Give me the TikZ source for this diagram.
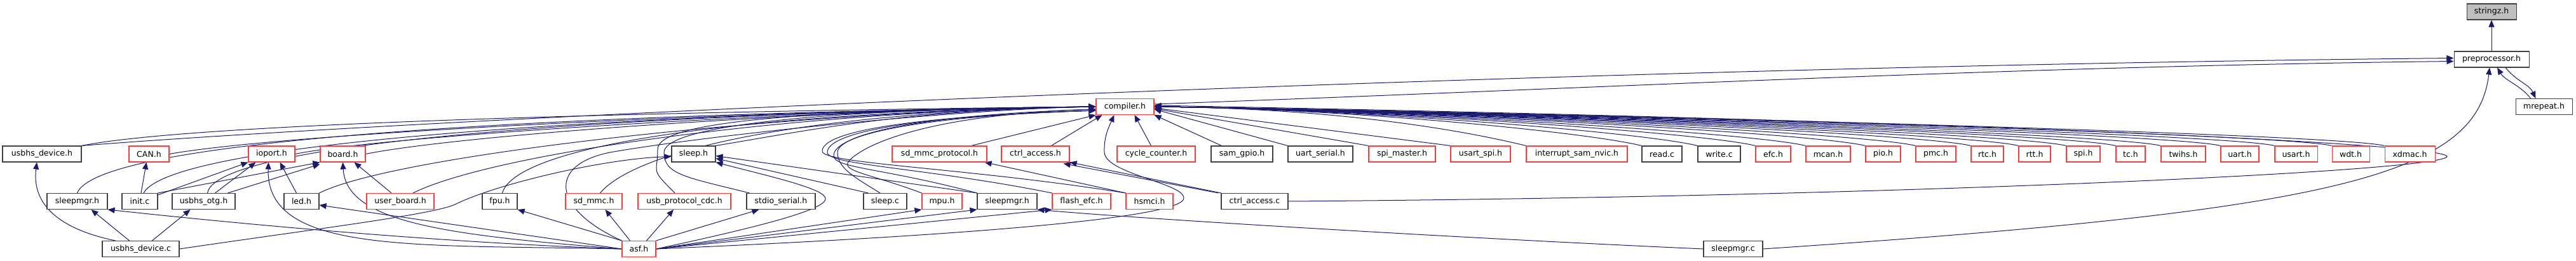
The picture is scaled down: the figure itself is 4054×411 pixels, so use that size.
\documentclass[tikz,border=0pt]{standalone}
\usepackage{fontspec}
\setmainfont{DejaVu Sans}
\usepackage{xcolor}
\usepackage{tikz}
\usetikzlibrary{arrows.meta}
\definecolor{edgeblue}{HTML}{191970}
\definecolor{boxred}{HTML}{FF3C3C}
\definecolor{boxgrey}{HTML}{BFBFBF}
\pgfdeclarelayer{edges}
\pgfsetlayers{edges,main}
\tikzset{
  filebox/.style={draw=black!75, line width=1.1pt, fill=white, minimum height=25pt,
    inner sep=0pt, font=\fontsize{12.5}{14}\selectfont},
  redbox/.style={filebox, draw=boxred},
  incl/.style={draw=edgeblue, line width=1pt, -{Triangle[length=11pt,width=9pt]}},
}

\begin{document}
\begin{tikzpicture}[x=1pt, y=-1pt]
\useasboundingbox (0,0) rectangle (4054,411);
% top
\node[filebox, fill=boxgrey, minimum width=78pt] (stringz) at (3921,18.5) {stringz.h};
\node[filebox, minimum width=118pt] (preproc) at (3921,93.5) {preprocessor.h};
\node[filebox, minimum width=89pt] (mrepeat) at (4003.5,168) {mrepeat.h};
\node[redbox, minimum width=91pt] (compiler) at (1770.5,168) {compiler.h};
% row of headers
\node[filebox, minimum width=124pt] (usbdevh) at (66,242.5) {usbhs\_device.h};
\node[redbox, minimum width=63pt] (canh) at (234.5,242.5) {CAN.h};
\node[redbox, minimum width=73pt] (ioport) at (427.5,242.5) {ioport.h};
\node[redbox, minimum width=71pt] (board) at (539.5,242.5) {board.h};
\node[filebox, minimum width=69pt] (sleeph) at (1091.5,242.5) {sleep.h};
\node[redbox, minimum width=149pt] (sdmmcprot) at (1478.5,242.5) {sd\_mmc\_protocol.h};
\node[redbox, minimum width=107pt] (ctrlacch) at (1629.5,242.5) {ctrl\_access.h};
\node[redbox, minimum width=123pt] (cyclecnt) at (1819.5,242.5) {cycle\_counter.h};
\node[filebox, minimum width=97pt] (samgpio) at (1954.5,242.5) {sam\_gpio.h};
\node[filebox, minimum width=102pt] (uartser) at (2078,242.5) {uart\_serial.h};
\node[redbox, minimum width=105pt] (spimaster) at (2206.5,242.5) {spi\_master.h};
\node[redbox, minimum width=94pt] (usartspi) at (2330,242.5) {usart\_spi.h};
\node[redbox, minimum width=159pt] (nvic) at (2481.5,242.5) {interrupt\_sam\_nvic.h};
\node[filebox, minimum width=63pt] (readc) at (2615.5,242.5) {read.c};
\node[filebox, minimum width=67pt] (writec) at (2705.5,242.5) {write.c};
\node[redbox, minimum width=55pt] (efc) at (2790.5,242.5) {efc.h};
\node[redbox, minimum width=70pt] (mcan) at (2877,242.5) {mcan.h};
\node[redbox, minimum width=55pt] (pio) at (2963.5,242.5) {pio.h};
\node[redbox, minimum width=63pt] (pmc) at (3046.5,242.5) {pmc.h};
\node[redbox, minimum width=51pt] (rtc) at (3127.5,242.5) {rtc.h};
\node[redbox, minimum width=50pt] (rtt) at (3202,242.5) {rtt.h};
\node[redbox, minimum width=53pt] (spi) at (3278.5,242.5) {spi.h};
\node[redbox, minimum width=46pt] (tc) at (3353,242.5) {tc.h};
\node[redbox, minimum width=70pt] (twihs) at (3436,242.5) {twihs.h};
\node[redbox, minimum width=60pt] (uart) at (3525,242.5) {uart.h};
\node[redbox, minimum width=67pt] (usart) at (3613.5,242.5) {usart.h};
\node[redbox, minimum width=59pt] (wdt) at (3699.5,242.5) {wdt.h};
\node[redbox, minimum width=79pt] (xdmac) at (3792.5,242.5) {xdmac.h};
% second row
\node[filebox, minimum width=95pt] (sleepmgra) at (121.5,317) {sleepmgr.h};
\node[filebox, minimum width=56pt] (initc) at (220,317) {init.c};
\node[filebox, minimum width=99pt] (usbotg) at (320.5,317) {usbhs\_otg.h};
\node[filebox, minimum width=55pt] (led) at (474.5,317) {led.h};
\node[redbox, minimum width=106pt] (userboard) at (630,317) {user\_board.h};
\node[filebox, minimum width=55pt] (fpu) at (786.5,317) {fpu.h};
\node[redbox, minimum width=89pt] (sdmmc) at (934.5,317) {sd\_mmc.h};
\node[redbox, minimum width=146pt] (usbcdc) at (1077,317) {usb\_protocol\_cdc.h};
\node[filebox, minimum width=108pt] (stdioser) at (1229,317) {stdio\_serial.h};
\node[filebox, minimum width=68pt] (sleepc) at (1393,317) {sleep.c};
\node[redbox, minimum width=63pt] (mpu) at (1482.5,317) {mpu.h};
\node[filebox, minimum width=94pt] (sleepmgrb) at (1585,317) {sleepmgr.h};
\node[redbox, minimum width=92pt] (flashefc) at (1702,317) {flash\_efc.h};
\node[redbox, minimum width=74pt] (hsmci) at (1809,317) {hsmci.h};
\node[filebox, minimum width=105pt] (ctrlaccc) at (1974.5,317) {ctrl\_access.c};
% bottom row
\node[filebox, minimum width=121pt] (usbdevc) at (221.5,392) {usbhs\_device.c};
\node[redbox, minimum width=53pt] (asf) at (1005.5,392) {asf.h};
\node[filebox, minimum width=93pt] (sleepmgrc) at (2727.5,392) {sleepmgr.c};

\begin{pgfonlayer}{edges}
% preprocessor and friends
\draw[incl] (preproc) -- (stringz);
\draw[incl] ([xshift=22pt]preproc.south) .. controls +(18,22) and +(-10,-22) .. ([xshift=-13pt]mrepeat.north);
\draw[incl] ([xshift=-21pt]mrepeat.north) .. controls +(-15,-20) and +(12,20) .. ([xshift=9pt]preproc.south);
\draw[incl] ([yshift=4pt]compiler.east) .. controls +(700,-25) and +(-700,8) .. ([yshift=-3pt]preproc.west);
\draw[incl] (usbdevh.north east) .. controls +(500,-40) and +(-1500,15) .. ([yshift=2pt]preproc.west);
\draw[incl] (sleepmgrc.east) .. controls +(900,-60) and +(-20,170) .. ([xshift=-3pt]preproc.south);
% into compiler.h from the left
\draw[incl] (usbdevh.north east) .. controls +(200,-40) and +(-500,5) .. (compiler.west);
\draw[incl] (canh.east) .. controls +(200,-35) and +(-500,5) .. (compiler.west);
\draw[incl] (ioport.east) .. controls +(150,-30) and +(-450,5) .. (compiler.west);
\draw[incl] (board.east) .. controls +(150,-30) and +(-450,5) .. (compiler.west);
\draw[incl] (sleepmgra.north) .. controls +(40,-100) and +(-600,8) .. (compiler.west);
\draw[incl] ([xshift=6pt]initc.north) .. controls +(50,-90) and +(-600,8) .. (compiler.west);
\draw[incl] ([xshift=6pt]usbotg.north) .. controls +(15,-90) and +(-600,8) .. (compiler.west);
\draw[incl] (led.north east) .. controls +(120,-60) and +(-500,8) .. (compiler.west);
\draw[incl] ([xshift=20pt]userboard.north) .. controls +(120,-60) and +(-500,8) .. (compiler.west);
\draw[incl] ([xshift=4pt]fpu.north) .. controls +(20,-70) and +(-600,10) .. (compiler.west);
\draw[incl] ([xshift=10pt]sdmmc.north) .. controls +(50,-60) and +(-500,10) .. (compiler.west);
\draw[incl] ([xshift=-15pt]usbcdc.north) .. controls +(-40,-40) and +(0,40) .. (1035,235)
  .. controls +(0,-40) and +(-500,5) .. (compiler.west);
\draw[incl] ([xshift=5pt]stdioser.north west) .. controls +(-100,-25) and +(0,35) .. (1045,240)
  .. controls +(0,-35) and +(-500,5) .. (compiler.west);
\draw[incl] (sleeph.north east) .. controls +(150,-25) and +(-300,5) .. (compiler.west);
\draw[incl] ([xshift=-8pt]sleepc.north) .. controls +(-40,-25) and +(0,25) .. (1318,240)
  .. controls +(0,-25) and +(-300,10) .. ([yshift=-4pt]compiler.west);
\draw[incl] (mpu.north west) .. controls +(-80,-30) and +(-10,15) .. (1335,255)
  .. controls +(10,-15) and +(-300,10) .. ([yshift=-4pt]compiler.west);
\draw[incl] (sleepmgrb.north west) .. controls +(-150,-40) and +(0,20) .. (1312,245)
  .. controls +(0,-30) and +(-300,10) .. ([yshift=-6pt]compiler.west);
\draw[incl] (flashefc.north west) .. controls +(-200,-40) and +(0,20) .. (1302,240)
  .. controls +(0,-30) and +(-300,10) .. ([yshift=-6pt]compiler.west);
\draw[incl] (hsmci.north west) .. controls +(-250,-40) and +(0,20) .. (1294,238)
  .. controls +(0,-30) and +(-300,10) .. ([yshift=-6pt]compiler.west);
% into compiler.h from below
\draw[incl] ([xshift=50pt]sdmmcprot.north) -- (compiler.south west);
\draw[incl] ([xshift=25pt]ctrlacch.north) -- ([xshift=10pt]compiler.south west);
\draw[incl] ([xshift=-8pt]cyclecnt.north) -- ([xshift=15pt]compiler.south);
\draw[incl] ([xshift=17pt]samgpio.north west) -- (compiler.south east);
% into compiler.h from the right
\draw[incl] (uartser.north west) -- ([yshift=-4pt]compiler.east);
\draw[incl] (spimaster.north west) -- ([yshift=-3pt]compiler.east);
\draw[incl] (usartspi.north west) -- ([yshift=-2pt]compiler.east);
\foreach \f in {nvic,readc,writec,efc,mcan,pio,pmc,rtc,rtt,spi,tc,twihs,uart,usart,wdt,xdmac}
  \draw[incl] (\f.north west) .. controls +(-90,-22) and +(300,3) .. (compiler.east);
\draw[incl] (ctrlaccc.east) .. controls (3000,310) and (3830,270) .. (3851,247)
  .. controls (3862,225) and (3000,188) .. ([yshift=2pt]compiler.east);
% ctrl_access, hsmci
\draw[incl] (ctrlaccc.north west) -- (ctrlacch.south east);
\draw[incl] ([xshift=-4pt]ctrlaccc.north west) -- ([xshift=-10pt,yshift=-2pt]ctrlacch.south east);
\draw[incl] (hsmci.north west) -- ([xshift=-4pt]sdmmcprot.south east);
% sleep.h and sleepmgr.h
\draw[incl] ([xshift=8pt]sleepc.north west) -- ([yshift=-7pt]sleeph.east);
\draw[incl] (sleepmgrb.north west) -- ([yshift=-3pt]sleeph.east);
\draw[incl] (sleepmgrc.west) .. controls (2300,375) and (1800,345) .. (sleepmgrb.south east);
% usbhs_device.c
\draw[incl] ([xshift=-40pt]usbdevc.north) .. controls (90,360) and (50,320) .. ([xshift=-8pt]usbdevh.south);
\draw[incl] ([xshift=-18pt]usbdevc.north) -- ([xshift=22pt]sleepmgra.south);
\draw[incl] ([xshift=18pt]usbdevc.north) -- ([xshift=-21pt]usbotg.south);
\draw[incl] (usbdevc.east) .. controls (500,360) and (680,338) .. (716,322)
  .. controls (780,290) and (950,250) .. ([yshift=-4pt]sleeph.west);
% init.c, usbhs_otg.h, led.h, user_board.h
\draw[incl] ([xshift=2pt]initc.north) -- ([xshift=-4pt]canh.south);
\draw[incl] ([yshift=-3pt]initc.north east) -- (ioport.south west);
\draw[incl] (initc.north east) -- (board.south west);
\draw[incl] ([xshift=18pt]usbotg.north) -- ([xshift=-25pt]ioport.south);
\draw[incl] ([xshift=38pt]usbotg.north) -- ([yshift=-3pt]board.south west);
\draw[incl] ([xshift=-8pt]led.north) -- ([xshift=13pt]ioport.south);
\draw[incl] ([xshift=-14pt]userboard.north) -- ([xshift=18pt]board.south);
% asf.h
\draw[incl] (asf.north west) -- (fpu.south east);
\draw[incl] ([xshift=-14pt]asf.north) -- ([xshift=18pt]sdmmc.south);
\draw[incl] ([xshift=12pt]asf.north) -- ([xshift=-17pt]usbcdc.south);
\draw[incl] (asf.north east) -- ([xshift=20pt]stdioser.south west);
\draw[incl] (asf.east) .. controls (1230,350) and (1310,325) .. (1298,310)
  .. controls (1290,295) and (1200,275) .. (sleeph.south east);
\draw[incl] (asf.east) -- (mpu.south west);
\draw[incl] (asf.east) -- (sleepmgrb.south west);
\draw[incl] (asf.east) -- (flashefc.south west);
\draw[incl] (asf.east) .. controls (1500,372) and (1840,345) .. (1862,315)
  .. controls (1875,290) and (1740,275) .. (1738,240)
  .. controls (1737,215) and (1745,200) .. ([xshift=-17pt]compiler.south);
\draw[incl] (asf.north west) .. controls (870,330) and (860,260) .. (960,240)
  .. controls (1100,215) and (1500,172) .. (compiler.west);
\draw[incl] (asf.west) .. controls (650,385) and (418,400) .. ([xshift=-5pt]ioport.south);
\draw[incl] (asf.west) .. controls (700,370) and (545,350) .. (board.south);
\draw[incl] (asf.west) -- ([yshift=-6pt]led.east);
\draw[incl] (asf.west) .. controls (700,382) and (400,355) .. (sleepmgra.south east);
\end{pgfonlayer}
\end{tikzpicture}
\end{document}
